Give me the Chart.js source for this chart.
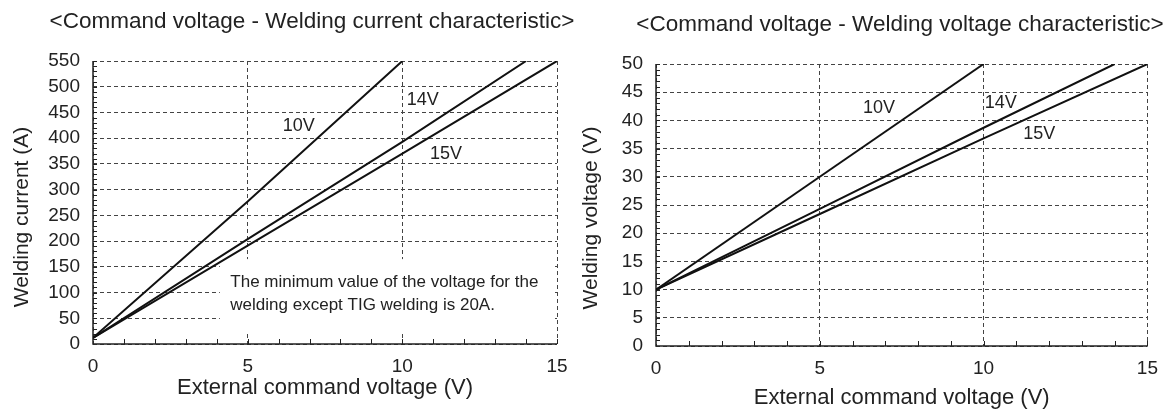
<!DOCTYPE html>
<html>
<head>
<meta charset="utf-8">
<title>Command voltage characteristics</title>
<script src="https://cdn.jsdelivr.net/npm/chart.js@4.4.1/dist/chart.umd.min.js"></script>
<style>
  html, body { margin: 0; padding: 0; background: #fff; }
  #wrap { position: relative; width: 1169px; height: 411px; overflow: hidden; }
  #wrap canvas { position: absolute; top: 0; }
  #currentChart { left: 0; }
  #voltageChart { left: 560px; }
</style>
</head>
<body>
<div id="wrap">
  <canvas id="currentChart" width="600" height="411"></canvas>
  <canvas id="voltageChart" width="609" height="411"></canvas>
</div>
<script>
// curve names = max external command voltage setting
const curveNames = ['10V', '14V', '15V'];

// external command voltage (V) at the read points of each curve
const cmd10 = [0, 5, 10];
const cmd14 = [0, 5, 10, 14];
const cmd15 = [0, 5, 10, 15];

// welding current (A)
const amps10 = [12, 277, 550];
const amps14 = [12, 204, 393, 550];
const amps15 = [12, 191, 370, 550];

// welding voltage (V)
const volts10 = [10, 30, 50];
const volts14 = [10, 24.3, 38.7, 50];
const volts15 = [10, 23.4, 36.8, 50];

// tick labels
const cmdTicks = [0, 5, 10, 15];
const ampTicks = [0, 50, 100, 150, 200, 250, 300, 350, 400, 450, 500, 550];
const voltTicks = [0, 5, 10, 15, 20, 25, 30, 35, 40, 45, 50];

const noteLines = [
  'The minimum value of the voltage for the',
  'welding except TIG welding is 20A.'
];

const FONT = '"Liberation Sans", Arial, Helvetica, sans-serif';
const INK = '#222';
const GRID = '#444';

// axes, inward minor ticks, titles and in-plot labels
const panelDecor = {
  id: 'panelDecor',
  beforeDatasetsDraw(chart, args, opts) {
    const { ctx, chartArea: a, scales: { x, y } } = chart;
    ctx.save();
    if (opts.note) {
      // blank area behind the note text
      const b = opts.note.box;
      const l = x.getPixelForValue(b[0]), r = x.getPixelForValue(b[1]);
      const t = y.getPixelForValue(b[3]), btm = y.getPixelForValue(b[2]);
      ctx.fillStyle = '#fff';
      ctx.fillRect(l, t, r - l, btm - t);
    }
    ctx.strokeStyle = INK;
    ctx.lineWidth = 1.5;
    ctx.beginPath();
    ctx.moveTo(a.left, a.top);
    ctx.lineTo(a.left, a.bottom);
    ctx.lineTo(a.right, a.bottom);
    ctx.stroke();

    ctx.lineWidth = 1;
    ctx.beginPath();
    for (let i = 1; i * opts.xMinor < x.max + 1e-9; i++) {
      const px = Math.round(x.getPixelForValue(i * opts.xMinor)) + 0.5;
      ctx.moveTo(px, a.bottom);
      ctx.lineTo(px, a.bottom - 5);
    }
    for (let i = 1; i * opts.yMinor < y.max + 1e-9; i++) {
      const py = Math.round(y.getPixelForValue(i * opts.yMinor)) + 0.5;
      ctx.moveTo(a.left, py);
      ctx.lineTo(a.left + 4, py);
    }
    ctx.stroke();
    ctx.restore();
  },
  afterDatasetsDraw(chart, args, opts) {
    const { ctx, scales: { x, y } } = chart;
    ctx.save();
    ctx.fillStyle = INK;
    ctx.font = '18px ' + FONT;
    ctx.textAlign = 'center';
    ctx.textBaseline = 'middle';
    opts.tags.forEach((t, i) => {
      ctx.fillText(curveNames[i], x.getPixelForValue(t[0]), y.getPixelForValue(t[1]));
    });
    if (opts.note) {
      ctx.font = '17px ' + FONT;
      ctx.textAlign = 'left';
      ctx.textBaseline = 'alphabetic';
      const nx = x.getPixelForValue(opts.note.at[0]);
      const ny = y.getPixelForValue(opts.note.at[1]);
      noteLines.forEach((s, i) => ctx.fillText(s, nx, ny + i * 23.5));
    }
    ctx.restore();
  },
  afterDraw(chart, args, opts) {
    const { ctx } = chart;
    ctx.save();
    ctx.fillStyle = INK;
    ctx.textAlign = 'center';
    ctx.textBaseline = 'middle';
    ctx.font = '22.5px ' + FONT;
    ctx.fillText(opts.heading.text, opts.heading.x, opts.heading.y);
    ctx.font = '21px ' + FONT;
    ctx.translate(opts.yTitle.x, opts.yTitle.y);
    ctx.rotate(-Math.PI / 2);
    ctx.fillText(opts.yTitle.text, 0, 0);
    ctx.restore();
  }
};

function curve(label, xs, ys) {
  return {
    label,
    data: xs.map((v, i) => ({ x: v, y: ys[i] })),
    showLine: true,
    borderColor: '#111',
    borderWidth: 2,
    pointRadius: 0,
    tension: 0
  };
}

function makeChart(id, o) {
  return new Chart(document.getElementById(id), {
    type: 'scatter',
    data: { datasets: o.datasets },
    options: {
      responsive: false,
      animation: false,
      events: [],
      layout: { padding: { top: o.top, right: o.right, bottom: o.bottom, left: 0 } },
      plugins: {
        legend: { display: false },
        tooltip: { enabled: false },
        panelDecor: o.decor
      },
      scales: {
        x: {
          type: 'linear', min: 0, max: 15,
          afterBuildTicks: s => { s.ticks = cmdTicks.map(v => ({ value: v })); },
          afterFit: s => { s.height = o.xHeight; },
          grid: { color: GRID, lineWidth: 1, drawTicks: false },
          border: { display: false, dash: [4, 3] },
          ticks: { padding: 11, autoSkip: false, color: INK, font: { family: FONT, size: 19 }, maxRotation: 0 },
          title: {
            display: true, text: 'External command voltage (V)', color: INK,
            font: { family: FONT, size: 22 }, padding: { top: 0, bottom: 0 }
          }
        },
        y: {
          type: 'linear', min: 0, max: o.yMax,
          afterBuildTicks: s => { s.ticks = o.yTicks.map(v => ({ value: v })); },
          afterFit: s => { s.width = o.yWidth; },
          grid: { color: GRID, lineWidth: 1, drawTicks: false },
          border: { display: false, dash: [4, 3] },
          ticks: { padding: 13, autoSkip: false, color: INK, font: { family: FONT, size: 19 } }
        }
      }
    },
    plugins: [panelDecor]
  });
}

makeChart('currentChart', {
  datasets: [
    curve(curveNames[0], cmd10, amps10),
    curve(curveNames[1], cmd14, amps14),
    curve(curveNames[2], cmd15, amps15)
  ],
  yMax: 550, yTicks: ampTicks,
  top: 61, right: 43, bottom: 10,
  xHeight: 411 - 10 - 344, yWidth: 93,
  decor: {
    xMinor: 1, yMinor: 10,
    heading: { text: '<Command voltage - Welding current characteristic>', x: 312, y: 22 },
    yTitle: { text: 'Welding current (A)', x: 22, y: 217 },
    tags: [[6.65, 423], [10.66, 474], [11.41, 370]],
    note: { box: [4.1, 14.85, 23, 165], at: [4.44, 111] }
  }
});

makeChart('voltageChart', {
  datasets: [
    curve(curveNames[0], cmd10, volts10),
    curve(curveNames[1], cmd14, volts14),
    curve(curveNames[2], cmd15, volts15)
  ],
  yMax: 50, yTicks: voltTicks,
  top: 64, right: 20, bottom: 0,
  xHeight: 411 - 346, yWidth: 96,
  decor: {
    xMinor: 1, yMinor: 1,
    heading: { text: '<Command voltage - Welding voltage characteristic>', x: 340, y: 25 },
    yTitle: { text: 'Welding voltage (V)', x: 31, y: 218 },
    tags: [[6.81, 42.2], [10.52, 43.0], [11.7, 37.5]]
  }
});
</script>
</body>
</html>
